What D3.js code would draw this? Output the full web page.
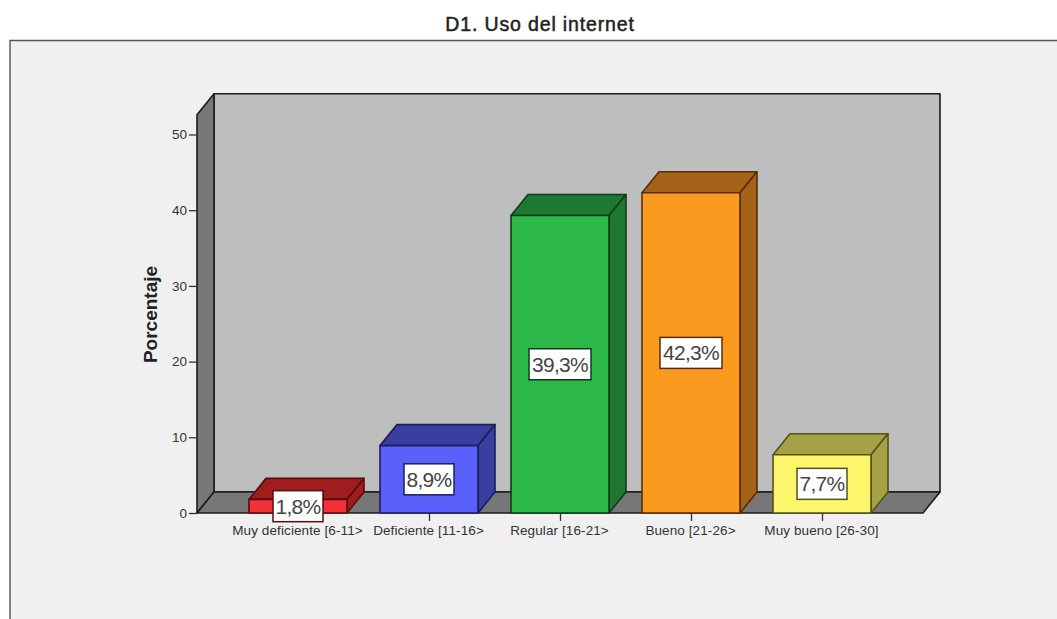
<!DOCTYPE html>
<html>
<head>
<meta charset="utf-8">
<script src="https://cdn.jsdelivr.net/npm/d3@7/dist/d3.min.js"></script>
<style>
  html, body { margin: 0; padding: 0; background: #fff; }
  svg { display: block; }
  text { font-family: "Liberation Sans", Arial, sans-serif; }
</style>
</head>
<body>
<svg width="1057" height="619"></svg>
<script>
const categories = ['Muy deficiente [6-11>', 'Deficiente [11-16>', 'Regular [16-21>', 'Bueno [21-26>', 'Muy bueno [26-30]'];
const values = [1.8, 8.9, 39.3, 42.3, 7.7];
const valueLabels = ['1,8%', '8,9%', '39,3%', '42,3%', '7,7%'];
const yTicks = [0, 10, 20, 30, 40, 50];
const frontColors = ['#f03236', '#5a60fa', '#2fb84a', '#fa9a1e', '#fbf66c'];
const sideColors = ['#a01d1f', '#3a3f9f', '#1f7831', '#a5631a', '#a6a145'];
const edgeColors = ['#5a0c0e', '#1c1f5e', '#0c3d18', '#5a2c08', '#55521c'];

const svg = d3.select('svg');

const dx = 17;      // глубина по x
const dy = -21;     // глубина по y
const barWidth = 98;
const wallMax = 52.6;

const x = d3.scalePoint().domain(categories).range([298, 822]);
const y = d3.scaleLinear().domain([0, 50]).range([513, 134.5]);

const floorLeft = 197;
const floorRight = 923;
const outline = '#1c1c1c';

const poly = (pts) => 'M' + pts.map(p => p.join(',')).join('L') + 'Z';

// фон
svg.append('rect').attr('x', 10).attr('y', 40).attr('width', 1047).attr('height', 579).attr('fill', '#f0f0f0');
svg.append('path').attr('d', 'M10,619V40.5H1057').attr('fill', 'none').attr('stroke', '#555').attr('stroke-width', 1.4);

// заголовок
svg.append('text').attr('x', 540).attr('y', 31)
   .attr('text-anchor', 'middle').attr('font-size', 19.5)
   .attr('stroke', '#222').attr('stroke-width', 0.5).attr('fill', '#222')
   .attr('letter-spacing', 0.85)
   .text('D1. Uso del internet');

// стены и пол
const y0 = y(0);
const yTop = y(wallMax);
const walls = svg.append('g').attr('stroke', outline).attr('stroke-width', 1.6).attr('stroke-linejoin', 'round');
walls.append('path')
     .attr('d', poly([[floorLeft + dx, yTop + dy], [floorRight + dx, yTop + dy], [floorRight + dx, y0 + dy], [floorLeft + dx, y0 + dy]]))
     .attr('fill', '#bebebe');
walls.append('path')
     .attr('d', poly([[floorLeft, yTop], [floorLeft + dx, yTop + dy], [floorLeft + dx, y0 + dy], [floorLeft, y0]]))
     .attr('fill', '#777');
walls.append('path')
     .attr('d', poly([[floorLeft, y0], [floorLeft + dx, y0 + dy], [floorRight + dx, y0 + dy], [floorRight, y0]]))
     .attr('fill', '#777');

// оси
const yAxis = svg.append('g').attr('transform', `translate(${floorLeft},0)`)
   .call(d3.axisLeft(y).tickValues(yTicks).tickSize(8).tickPadding(2).tickFormat(d3.format('d')));
yAxis.select('.domain').remove();
yAxis.selectAll('line').attr('stroke', '#333').attr('stroke-width', 1.3);
yAxis.selectAll('text').attr('font-size', 13.5).attr('fill', '#333')
     .style('font-family', '"Liberation Sans", Arial, sans-serif');

const xAxis = svg.append('g').attr('transform', `translate(0,${y0})`)
   .call(d3.axisBottom(x).tickSize(8).tickPadding(4));
xAxis.select('.domain').remove();
xAxis.selectAll('line').attr('stroke', '#333').attr('stroke-width', 1.3);
xAxis.selectAll('text').attr('font-size', 13.5).attr('fill', '#333').attr('letter-spacing', 0.1).attr('dx', -1)
     .style('font-family', '"Liberation Sans", Arial, sans-serif');

svg.append('text')
   .attr('transform', 'translate(157,314.5) rotate(-90)')
   .attr('text-anchor', 'middle').attr('font-size', 19).attr('font-weight', 'bold').attr('fill', '#222')
   .text('Porcentaje');

// столбцы
const bars = svg.append('g').selectAll('g').data(categories).join('g')
   .attr('stroke-width', 1.6).attr('stroke-linejoin', 'round')
   .attr('stroke', (d, i) => edgeColors[i]);

bars.append('path')
    .attr('d', (d, i) => {
        const l = x(d) - barWidth / 2, r = l + barWidth, t = y(values[i]);
        return poly([[l, t], [l + dx, t + dy], [r + dx, t + dy], [r, t]]);
    })
    .attr('fill', (d, i) => sideColors[i]);
bars.append('path')
    .attr('d', (d, i) => {
        const r = x(d) + barWidth / 2, t = y(values[i]);
        return poly([[r, t], [r + dx, t + dy], [r + dx, y0 + dy], [r, y0]]);
    })
    .attr('fill', (d, i) => sideColors[i]);
bars.append('rect')
    .attr('x', d => x(d) - barWidth / 2)
    .attr('y', (d, i) => y(values[i]))
    .attr('width', barWidth)
    .attr('height', (d, i) => y0 - y(values[i]))
    .attr('fill', (d, i) => frontColors[i]);

// подписи значений
const labels = svg.append('g').selectAll('g').data(categories).join('g')
   .attr('transform', (d, i) => `translate(${x(d)},${(y(values[i]) + y0) / 2})`);
labels.append('rect')
      .attr('x', (d, i) => valueLabels[i].length > 4 ? -31 : -25)
      .attr('y', -15.5)
      .attr('width', (d, i) => valueLabels[i].length > 4 ? 62 : 50)
      .attr('height', 31)
      .attr('fill', '#fff')
      .attr('stroke', (d, i) => edgeColors[i])
      .attr('stroke-width', 1.5);
labels.append('text')
      .attr('text-anchor', 'middle').attr('y', 7.5)
      .attr('font-size', 21).attr('fill', '#444').attr('letter-spacing', -0.7)
      .text((d, i) => valueLabels[i]);
</script>
</body>
</html>
